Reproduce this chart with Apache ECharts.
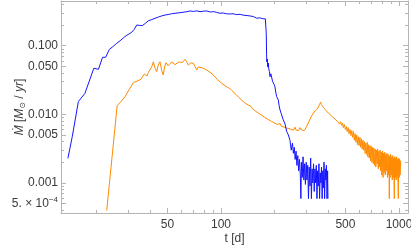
<!DOCTYPE html>
<html>
<head>
<meta charset="utf-8">
<script src="https://cdn.jsdelivr.net/npm/echarts@6/dist/echarts.min.js"></script>
<style>html,body{margin:0;padding:0;background:#fff;}#c{width:411px;height:245px;}</style>
</head>
<body>
<div id="c"></div>
<script>
// ---- data (t in days, Mdot in Msun/yr) ----
const blueT = [13.8,14.6,15.8,17.2,19.3,20.5,21.6,22.5,23.6,24.6,25.8,27.1,28.2,29.3,30.4,31.5,32.5,33.6,34.8,36.1,37.6,39.1,40.8,42.6,44.5,46.5,48.5,50.5,52.8,55.2,58.8,62,64.5,67,70,73,76.2,79.5,83,87.3,91,94.5,98.7,103,107,112,117,122,128,133,140,146,152,159,165,171,175,177.5,179,179.6,180.3,181,182,183,184.4,185.5,187,188.5,190.5,192.9,195,196.8,199,201,203,205.5,207.5,209.8,212,214.5,218,223,229,234,239,244,248,252,255,258,261,264,267,270,273,276,279,281,283,286,289,292,295,298,301,304,307,310,313,316,319,322,325,328,331,334,337,340,343,346,349,352,355,358,361,364,367,370,373,376,379,382,385,388,391,394,397,399];
const blueM = [0.00228,0.00472,0.0153,0.0202,0.0469,0.0453,0.0678,0.0678,0.0886,0.096,0.107,0.118,0.129,0.140,0.148,0.157,0.172,0.200,0.198,0.196,0.212,0.231,0.240,0.251,0.262,0.272,0.280,0.285,0.292,0.297,0.303,0.309,0.313,0.321,0.316,0.322,0.313,0.318,0.321,0.310,0.314,0.306,0.297,0.300,0.292,0.290,0.292,0.284,0.287,0.279,0.275,0.271,0.266,0.251,0.255,0.248,0.250,0.246,0.248,0.15,0.075,0.058,0.064,0.049,0.056,0.046,0.042,0.0353,0.039,0.0374,0.030,0.0283,0.027,0.0252,0.021,0.0181,0.0185,0.0162,0.0135,0.0116,0.0102,0.0085,0.0072,0.0056,0.0050,0.0042,0.0030,0.0038,0.0027,0.0033,0.0022,0.0029,0.0018,0.0025,0.0015,0.0022,0.0013,0.00059,0.0020,0.0012,0.0024,0.0011,0.0019,0.00095,0.0020,0.0011,0.0018,0.00059,0.0017,0.0009,0.0023,0.00059,0.0016,0.0010,0.0019,0.00075,0.0016,0.0010,0.0018,0.00059,0.0015,0.0009,0.0019,0.00059,0.0014,0.0010,0.0017,0.00059,0.0015,0.00085,0.0020,0.00059,0.0016,0.0011,0.0018,0.00059,0.0015,0.00059];

const orangeT = [22.8,26.1,27.5,28.9,30.5,32.2,33.8,35.5,36.3,37.1,38.4,39.1,39.9,40.8,41.7,42.6,43.5,44.4,45.4,46.4,47.4,48.2,49.1,50.4,51.7,52.8,54,55.2,56.4,57.6,58.8,60.8,62.8,64.2,65.5,67.7,69.9,71.4,73,74.6,76.2,79.5,83.1,86.8,90.6,95.5,
  101,104,106,109,112,115,118,121,123,126,128,131,133,136,139,142,146,149,152,155,159,162,166,169,172,176,179,184,188,192,195,199,203,208,214,218,222,226,230,234,237,241,244,248,252,256,260,264,268,273,278,284,290,294,297,300,303,308,313,318,323,328,334,340,345,349,352,355,358,361,363,366,368,372,375,380,384,390,395,401,
  409,414,420,426,432,438,447,452,458,464,470,476,482,487,493,500,506,512,518,524,531,537,543,549,555,561,567,573,579,585,591,597,603,609,615,621,627,633,639,645,651,657,663,669,675,681,687,693,699,705,711,717,723,729,735,741,747,753,759,765,771,777,783,789,795,801,807,813,819,825,831,837,843,849,855,861,867,873,879,882,886,892,898,904,910,916,922,928,934,941,946,952,958,964,970,976,982,991,996,1002,1008,1014,1022];
const orangeM = [0.000396,0.01335,0.0155,0.01805,0.023,0.0289,0.0305,0.0324,0.0345,0.0387,0.0362,0.041,0.0432,0.049,0.0584,0.047,0.0418,0.052,0.0584,0.044,0.0374,0.049,0.0565,0.051,0.0523,0.058,0.0584,0.053,0.0554,0.0575,0.0584,0.057,0.0633,0.058,0.0523,0.056,0.0554,0.050,0.0442,0.049,0.0523,0.047,0.0442,0.041,0.0374,0.032,
  0.0283,0.0268,0.0272,0.0246,0.0238,0.0222,0.0212,0.0196,0.0192,0.0176,0.0174,0.0160,0.0163,0.0147,0.0146,0.0136,0.0134,0.0123,0.0124,0.0113,0.0115,0.0104,0.0104,0.0097,0.0099,0.0090,0.0092,0.0084,0.0087,0.0079,0.0082,0.0075,0.0079,0.0071,0.0074,0.0067,0.0071,0.0065,0.0069,0.0063,0.0067,0.0062,0.0066,0.0060,0.0064,0.0059,0.0065,0.0059,0.0063,0.0058,0.0064,0.0059,0.0063,0.0058,0.0062,0.0060,0.0067,0.0070,0.0080,0.0085,0.0095,0.0098,0.0108,0.0111,0.0118,0.0121,0.0127,0.0131,0.0140,0.0143,0.0150,0.0139,0.0142,0.0131,0.0133,0.0122,0.0124,0.0113,0.0115,0.0104,
  0.0105,0.0097,0.0099,0.0090,0.0093,0.0085,0.0087,0.0078,0.0082,0.0072,0.0078,0.0069,0.0074,0.0064,0.0071,0.0060,0.0066,0.0056,0.0064,0.0052,0.0060,0.0049,0.0058,0.0046,0.0056,0.0042,0.0052,0.0039,0.0050,0.0036,0.0047,0.0035,0.0046,0.0033,0.0044,0.0031,0.0042,0.0030,0.0040,0.0027,0.0038,0.0026,0.0039,0.0024,0.0036,0.0023,0.0035,0.0021,0.0034,0.0020,0.0033,0.0019,0.0032,0.0018,0.0031,0.0017,0.0030,0.0019,0.0031,0.0016,0.0029,0.0017,0.0030,0.0015,0.0028,0.0013,0.0029,0.0012,0.0027,0.0014,0.0028,0.0013,0.0026,0.0015,0.0027,0.0012,0.0026,0.0013,0.0025,0.00059,0.0024,0.0012,0.0026,0.0013,0.0024,0.0011,0.0025,0.0012,0.0023,0.00059,0.0024,0.0012,0.0023,0.0011,0.0024,0.0012,0.0022,0.00059,0.0023,0.0012,0.0022,0.0013,0.0021];

// ---- ticks ----
const xMajor = [50,100,500,1000];
const xMajorLabels = ['50','100','500','1000'];
const xMinor = [20,30,40,60,70,80,90,200,300,400,600,700,800,900];
const yMajor = [0.1,0.05,0.01,0.005,0.001,0.0005];
const yMajorLabels = ['0.100','0.050','0.010','0.005','0.001','5. × 10^−4'];
const yMinor = [0.4,0.3,0.2,0.09,0.08,0.07,0.06,0.04,0.03,0.02,0.009,0.008,0.007,0.006,0.004,0.003,0.002,0.0009,0.0008,0.0007,0.0006,0.0004];

const XMIN = 1.1011, XMAX = 3.0505;
const YMIN = -3.4388, YMAX = -0.3484;

const L = Math.log10;
const frame = '#b4b4b4';
const txt = '#3a3a3a';
const font = 'Liberation Sans';

function labelFor(v, majors, labels) {
  for (let i = 0; i < majors.length; i++) if (Math.abs(L(majors[i]) - v) < 1e-6) return labels[i];
  return '';
}
function yFmt(v) {
  const s = labelFor(v, yMajor, yMajorLabels);
  if (s.indexOf('^') >= 0) { const p = s.split('^'); return p[0] + '{sup|' + p[1] + '}'; }
  return s;
}

function xAx(pos, vals, len, labels, line) {
  return {
    type: 'value', position: pos, min: XMIN, max: XMAX, gridIndex: 0,
    axisLine: { show: line, onZero: false, lineStyle: { color: frame, width: 1 } },
    axisTick: { show: true, inside: true, length: len, customValues: vals, lineStyle: { color: frame } },
    axisLabel: labels ? { show: true, customValues: vals, margin: 6, color: txt, fontFamily: font, fontSize: 12,
      formatter: v => labelFor(v, xMajor, xMajorLabels) } : { show: false },
    splitLine: { show: false }
  };
}
function yAx(pos, vals, len, labels, line) {
  return {
    type: 'value', position: pos, min: YMIN, max: YMAX, gridIndex: 0,
    axisLine: { show: line, onZero: false, lineStyle: { color: frame, width: 1 } },
    axisTick: { show: true, inside: true, length: len, customValues: vals, lineStyle: { color: frame } },
    axisLabel: labels ? { show: true, customValues: vals, margin: 3, color: txt, fontFamily: font, fontSize: 12,
      formatter: yFmt, rich: { sup: { fontSize: 8, padding: [0, 0, 8, 0], color: txt, fontFamily: font } } } : { show: false },
    splitLine: { show: false }
  };
}

const xMajL = xMajor.map(L), xMinL = xMinor.map(L), yMajL = yMajor.map(L), yMinL = yMinor.map(L);

const xAxes = [xAx('bottom', xMajL, 5, true, true), xAx('bottom', xMinL, 3, false, false), xAx('top', xMajL, 5, false, true), xAx('top', xMinL, 3, false, false)];
const yAxes = [yAx('left', yMajL, 5, true, true), yAx('left', yMinL, 3, false, false), yAx('right', yMajL, 5, false, true), yAx('right', yMinL, 3, false, false)];

xAxes[0].name = 't [d]';
xAxes[0].nameLocation = 'middle';
xAxes[0].nameGap = 20;
xAxes[0].nameMoveOverlap = false;
xAxes[0].nameTextStyle = { color: txt, fontFamily: font, fontSize: 12 };

yAxes[0].name = '{i|Ṁ} [{i|M}{sub|⊙} / {i|yr}]';
yAxes[0].nameLocation = 'middle';
yAxes[0].nameGap = 34;
yAxes[0].nameMoveOverlap = false;
yAxes[0].nameTextStyle = { color: txt, fontFamily: font, fontSize: 12,
  rich: { i: { fontStyle: 'italic', fontSize: 12, fontFamily: font, color: txt },
          sub: { fontSize: 8, padding: [6, 0, 0, 0], fontFamily: 'DejaVu Sans', color: txt } } };

const chart = echarts.init(document.getElementById('c'), null, { renderer: 'canvas' });
chart.setOption({
  animation: false,
  backgroundColor: '#fff',
  grid: { left: 61, right: 3, top: 1, bottom: 32, containLabel: false, outerBoundsMode: 'none' },
  xAxis: xAxes,
  yAxis: yAxes,
  series: [
    { type: 'line', name: 'orange', xAxisIndex: 0, yAxisIndex: 0, showSymbol: false, symbol: 'none',
      data: orangeT.map((t, i) => [L(t), L(orangeM[i])]),
      lineStyle: { color: '#ff8a00', width: 1 }, itemStyle: { color: '#ff8a00' } },
    { type: 'line', name: 'blue', xAxisIndex: 0, yAxisIndex: 0, showSymbol: false, symbol: 'none',
      data: blueT.map((t, i) => [L(t), L(blueM[i])]),
      lineStyle: { color: '#1414ff', width: 1 }, itemStyle: { color: '#1414ff' } }
  ]
});
</script>
</body>
</html>
